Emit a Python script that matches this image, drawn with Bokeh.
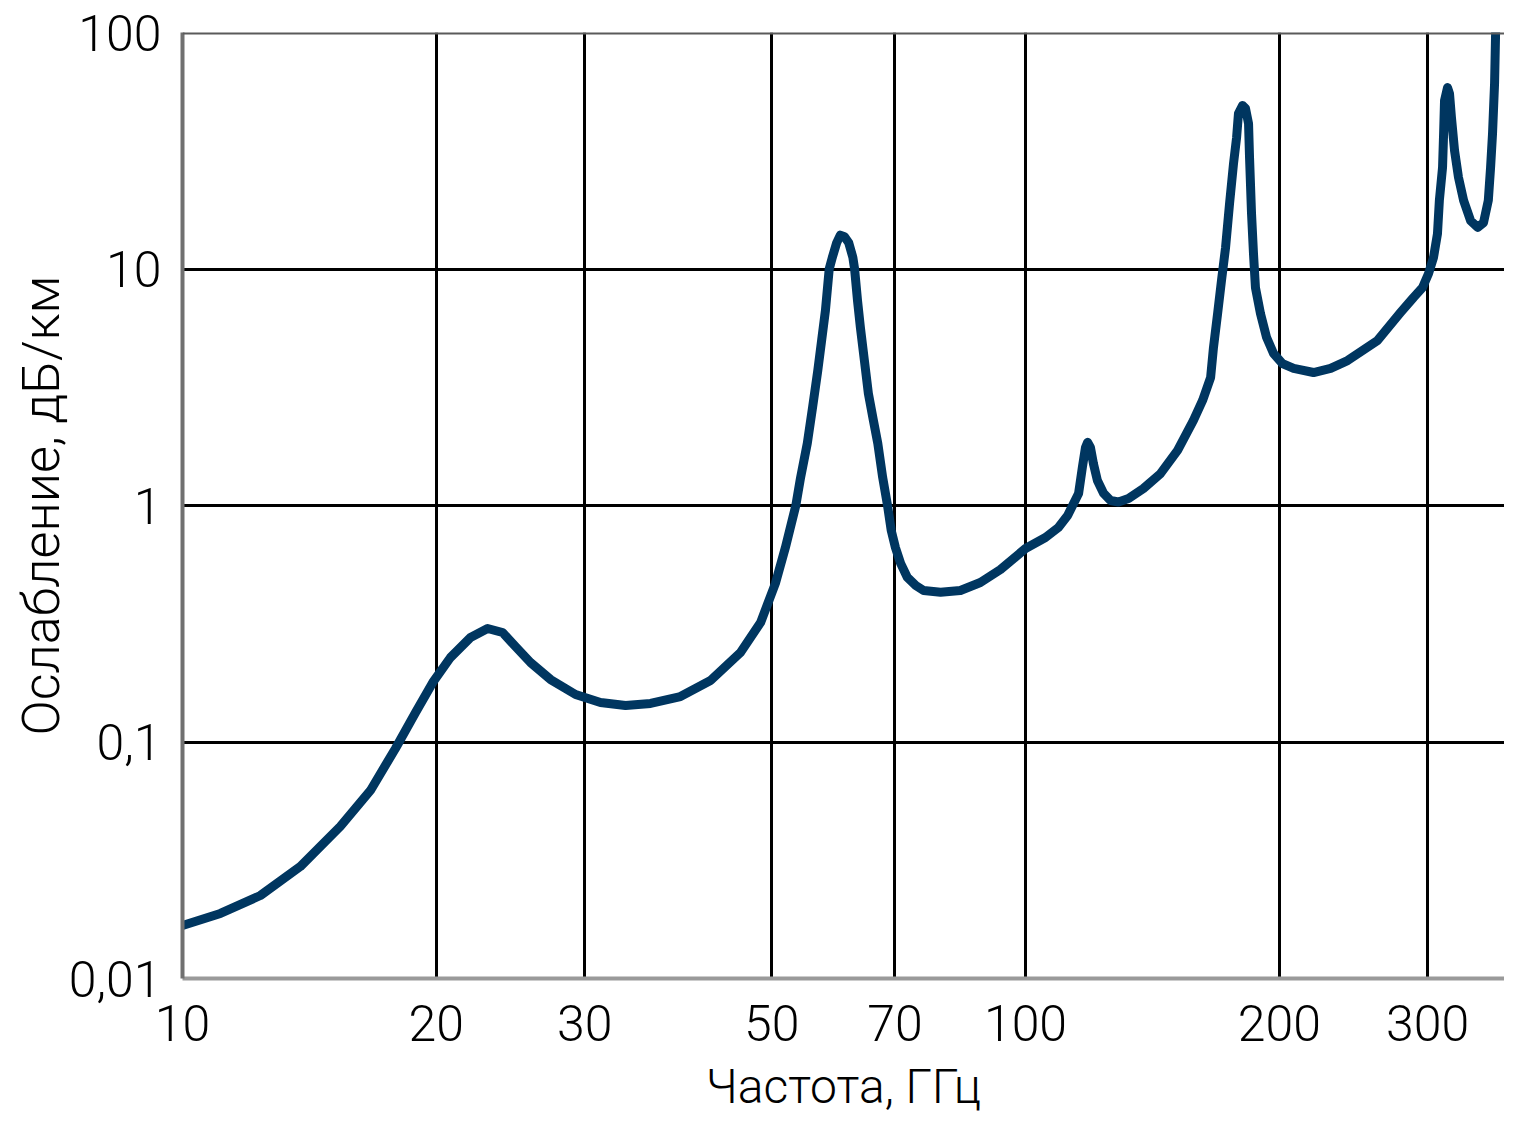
from bokeh.plotting import figure
from bokeh.models import FixedTicker, Span, Range1d
from bokeh.embed import file_html
from bokeh.resources import INLINE

# Frequency (GHz) and specific attenuation (dB/km)
freq_ghz = [10, 11.09, 12.37, 13.80, 15.39, 16.71, 17.89, 18.90, 19.81, 20.79, 21.96, 23.01,
            23.97, 24.83, 25.87, 27.33, 29.26, 31.32, 33.54, 35.91, 38.96, 42.30, 45.91,
            48.50, 50.5, 51.9, 53.4, 54.1, 55.1, 55.9, 56.7, 57.3, 57.9, 58.5, 59.0, 59.7,
            60.3, 61.0, 61.7, 62.4, 62.7, 63.2, 63.7, 64.4, 65.1, 66.0, 66.8, 67.7, 68.6,
            69.3, 70.1, 71.1, 72.4, 74.1, 75.7, 79.3, 83.7, 88.4, 93.4, 100, 105.6, 109.4,
            112.2, 115.6, 116.8, 117.8, 118.5, 119.4, 120.4, 121.7, 123.8, 126.1, 128.9,
            132.5, 138.0, 144.5, 151.5, 158.2, 162.2, 165.8, 167.1, 169.0, 170.8, 172.7,
            174.6, 176.5, 178.0, 178.9, 180.9, 182.4, 183.9, 184.4, 185.4, 186.4, 187.4,
            190.0, 193.2, 196.9, 201.8, 208.0, 219.6, 230.1, 241.0, 261.6, 278.6, 288.6,
            295.8, 300.7, 304.8, 308.1, 309.7, 312.4, 313.3, 314.1, 316.7, 318.4, 320.1,
            322.8, 326.3, 330.9, 337.3, 343.8, 349.4, 354.0, 356.2, 358.1, 360.1, 361.1,
            364, 368]
atten_db_km = [0.01675, 0.01884, 0.02244, 0.02977, 0.0440, 0.0624, 0.0939, 0.1333, 0.1786,
               0.2277, 0.2767, 0.302, 0.2904, 0.2535, 0.2168, 0.1837, 0.1588, 0.1469,
               0.1426, 0.1455, 0.1557, 0.182, 0.239, 0.320, 0.468, 0.664, 1.0, 1.313, 1.83,
               2.60, 3.72, 4.99, 6.68, 10.0, 11.2, 12.9, 13.9, 13.7, 12.9, 11.2, 10.0, 7.36,
               5.66, 4.10, 2.98, 2.29, 1.83, 1.313, 1.0, 0.784, 0.664, 0.569, 0.497, 0.459,
               0.437, 0.43, 0.437, 0.4725, 0.536, 0.658, 0.732, 0.807, 0.908, 1.124, 1.45,
               1.76, 1.85, 1.76, 1.50, 1.275, 1.124, 1.05, 1.035, 1.07, 1.18, 1.36, 1.71,
               2.29, 2.78, 3.48, 4.66, 6.48, 8.94, 12.3, 18.9, 27.9, 36.0, 45.4, 49.1, 47.7,
               41.2, 29.6, 17.2, 11.6, 8.35, 6.48, 5.13, 4.39, 3.98, 3.80, 3.65, 3.80, 4.10,
               4.99, 6.55, 7.58, 8.35, 9.57, 11.2, 14.1, 19.5, 26.9, 37.4, 51.6, 58.5, 55.2,
               43.7, 31.7, 24.4, 19.5, 16.0, 15.0, 15.7, 19.5, 26.9, 37.4, 60.9, 99, 180, 300]

# descending branch beyond the ~370 GHz line (drawn black in the picture)
tail_freq_ghz = [368, 376.2, 384.5]
tail_atten_db_km = [300, 100, 36]

x_ticks = [10, 20, 30, 50, 70, 100, 200, 300]
x_grid = [20, 30, 50, 70, 100, 200, 300]
y_ticks = [0.01, 0.1, 1, 10, 100]
y_tick_labels = ["0,01", "0,1", "1", "10", "100"]
y_grid = [0.1, 1, 10]

FONT = "Roboto Light"

p = figure(width=1504, height=1117, x_axis_type="log", y_axis_type="log",
           x_range=Range1d(10, 370), y_range=Range1d(0.01, 100),
           output_backend="svg", toolbar_location=None,
           min_border_left=182, min_border_right=0, min_border_top=32, min_border_bottom=139)

p.outline_line_color = None
p.background_fill_color = "white"
p.border_fill_color = "white"

# grid
p.xgrid.ticker = FixedTicker(ticks=x_grid)
p.ygrid.ticker = FixedTicker(ticks=y_grid)
for g in (p.xgrid, p.ygrid):
    g.grid_line_color = "black"
    g.grid_line_width = 3
    g.grid_line_alpha = 1.0

# axes
p.xaxis.ticker = FixedTicker(ticks=x_ticks)
p.yaxis.ticker = FixedTicker(ticks=y_ticks)
p.xaxis.major_label_overrides = {t: str(t) for t in x_ticks}
p.yaxis.major_label_overrides = dict(zip(y_ticks, y_tick_labels))

for ax in (p.xaxis, p.yaxis):
    ax.major_tick_line_color = None
    ax.minor_tick_line_color = None
    ax.major_label_text_font = FONT
    ax.major_label_text_font_size = "50px"
    ax.major_label_text_color = "black"
    ax.axis_label_text_font = FONT
    ax.axis_label_text_font_style = "normal"
    ax.axis_label_text_color = "black"

p.xaxis.axis_line_color = "#9a9a9a"
p.xaxis.axis_line_width = 4
p.yaxis.axis_line_color = "#707070"
p.yaxis.axis_line_width = 4

p.xaxis.major_label_standoff = 20
p.yaxis.major_label_standoff = 15

p.xaxis.axis_label = "Частота, ГГц"
p.xaxis.axis_label_text_font_size = "48px"
p.xaxis.axis_label_standoff = 14
p.yaxis.axis_label = "Ослабление, дБ/км"
p.yaxis.axis_label_text_font_size = "52px"
p.yaxis.axis_label_standoff = -6

# top border
p.add_layout(Span(location=100, dimension="width", line_color="#5a5a5a", line_width=4))

p.line(freq_ghz, atten_db_km, line_color="#003660", line_width=9,
       line_join="round", line_cap="round")
p.line(tail_freq_ghz, tail_atten_db_km, line_color="black", line_width=6,
       line_join="round", line_cap="round")

open("out.html", "w").write(file_html(p, INLINE))
